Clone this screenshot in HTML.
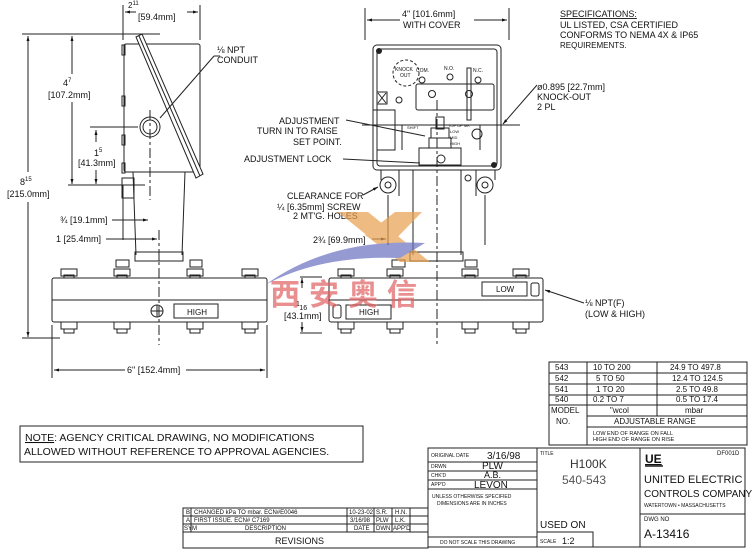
<!DOCTYPE html>
<html><head><meta charset="utf-8"><style>
html,body{margin:0;padding:0;background:#fff;}
svg{display:block;}
text{font-family:"Liberation Sans",sans-serif;}
</style></head><body>
<svg width="753" height="555" viewBox="0 0 753 555" xmlns="http://www.w3.org/2000/svg">
<defs>
<marker id="a" viewBox="0 0 10 10" refX="10" refY="5" markerWidth="7" markerHeight="5" orient="auto-start-reverse"><path d="M0,2 L10,5 L0,8 z" fill="#111"/></marker>
<g id="bt" stroke="#222" fill="none"><rect x="-8" y="-9" width="16" height="7"/><rect x="-5" y="-3" width="10" height="3"/></g>
<g id="bb" stroke="#222" fill="none"><rect x="-8" y="0" width="16" height="7"/><rect x="-5" y="7" width="10" height="4"/></g>
</defs>
<g stroke="#222" stroke-width="1" fill="none">
<!-- LEFT VIEW -->
<rect x="124" y="44" width="76" height="128" rx="2"/>
<rect x="122" y="45" width="3" height="10"/><rect x="122" y="96" width="3" height="10"/><rect x="122" y="135" width="3" height="10"/><rect x="122" y="163" width="3" height="10"/>
<path d="M136,37 L142,34 L203,174 L196,178 Z" fill="#fff"/>
<line x1="139" y1="36" x2="200" y2="176"/>
<circle cx="150" cy="127" r="10"/><circle cx="150" cy="127" r="7"/>
<rect x="122" y="178" width="12" height="20"/>
<path d="M133,172 L136,255 M185,172 L182,255"/>
<rect x="135" y="252" width="48" height="9"/><line x1="159" y1="252" x2="159" y2="261"/>
<rect x="52" y="278" width="215" height="44" rx="2"/>
<line x1="52" y1="300" x2="267" y2="300"/>
<rect x="174" y="304" width="44" height="14"/>
<circle cx="157" cy="311" r="6"/><line x1="151" y1="311" x2="163" y2="311"/><line x1="157" y1="305" x2="157" y2="317"/>
<use href="#bt" x="69" y="278"/><use href="#bt" x="122" y="278"/><use href="#bt" x="195" y="278"/><use href="#bt" x="250" y="278"/>
<rect x="116" y="260" width="13" height="7"/><rect x="190" y="260" width="12" height="7"/>
<use href="#bb" x="69" y="322"/><use href="#bb" x="122" y="322"/><use href="#bb" x="195" y="322"/><use href="#bb" x="250" y="322"/>
<g stroke-dasharray="10,3,3,3"><line x1="150" y1="110" x2="150" y2="200"/><line x1="159" y1="230" x2="159" y2="345"/></g>
<line x1="90" y1="127" x2="138" y2="127"/>
<line x1="123" y1="5" x2="123" y2="40"/><line x1="200" y1="5" x2="200" y2="40"/>
<line x1="125" y1="12" x2="136" y2="12" marker-start="url(#a)"/><line x1="187" y1="12" x2="198" y2="12" marker-end="url(#a)"/>
<line x1="22" y1="34" x2="160" y2="34"/>
<line x1="28" y1="36" x2="28" y2="172" marker-start="url(#a)"/><line x1="28" y1="202" x2="28" y2="337" marker-end="url(#a)"/>
<line x1="22" y1="338" x2="60" y2="338"/>
<line x1="72" y1="36" x2="72" y2="74" marker-start="url(#a)"/><line x1="72" y1="102" x2="72" y2="184" marker-end="url(#a)"/>
<line x1="68" y1="185" x2="145" y2="185"/>
<line x1="96" y1="130" x2="96" y2="142" marker-start="url(#a)"/><line x1="96" y1="170" x2="96" y2="184" marker-end="url(#a)"/>
<line x1="112" y1="220" x2="148" y2="220" marker-end="url(#a)"/>
<line x1="106" y1="239" x2="157" y2="239" marker-end="url(#a)"/>
<line x1="123" y1="185" x2="123" y2="240"/>
<line x1="52" y1="325" x2="52" y2="378"/><line x1="267" y1="325" x2="267" y2="378"/>
<line x1="54" y1="370" x2="125" y2="370" marker-start="url(#a)"/><line x1="186" y1="370" x2="265" y2="370" marker-end="url(#a)"/>
<line x1="160" y1="118" x2="214" y2="56"/><line x1="214" y1="56" x2="220" y2="56"/>
<!-- RIGHT VIEW -->
<rect x="373" y="45" width="128" height="125" rx="4"/>
<rect x="377" y="49" width="120" height="117" rx="3"/>
<circle cx="379" cy="51" r="2.5" fill="#222"/><circle cx="494" cy="165" r="2.5" fill="#222"/>
<circle cx="406" cy="73" r="13" stroke-dasharray="3,2"/>
<rect x="416" y="84" width="78" height="26" rx="2"/>
<rect x="467" y="68" width="4" height="52"/>
<rect x="377" y="92" width="10" height="12"/><path d="M378,93 L386,103 M386,93 L378,103"/>
<circle cx="399" cy="100" r="3"/>
<circle cx="432" cy="94" r="3.5"/><circle cx="469" cy="94" r="3.5"/>
<circle cx="422" cy="80" r="3"/><circle cx="450" cy="77" r="3"/><circle cx="478" cy="80" r="3"/>
<path d="M373,110 L395,110 L395,150 L377,150"/>
<rect x="436" y="117" width="8" height="12"/><rect x="431" y="128" width="18" height="10"/><rect x="429" y="138" width="22" height="10"/>
<rect x="419" y="148" width="42" height="17"/>
<circle cx="441" cy="159" r="4"/>
<path d="M402,125 L402,150 M480,125 L480,150"/>
<circle cx="477" cy="134" r="5"/>
<path d="M381,170 L381,180 M399,170 L399,196 M476,170 L476,196 M495,170 L495,180"/>
<circle cx="388" cy="185" r="8"/><circle cx="388" cy="185" r="3"/>
<circle cx="485" cy="185" r="8"/><circle cx="485" cy="185" r="3"/>
<circle cx="468" cy="178" r="3"/>
<path d="M413,170 L413,255 M461,170 L461,255"/>
<rect x="410" y="252" width="53" height="9"/>
<rect x="329" y="278" width="214" height="44" rx="2"/>
<line x1="329" y1="300" x2="543" y2="300"/>
<rect x="482" y="282" width="45" height="14"/>
<rect x="346" y="305" width="45" height="14"/>
<rect x="531" y="283" width="8" height="13" rx="2"/><rect x="333" y="305" width="8" height="13" rx="2"/>
<use href="#bt" x="346" y="278"/><use href="#bt" x="395" y="278"/><use href="#bt" x="470" y="278"/><use href="#bt" x="521" y="278"/>
<rect x="392" y="260" width="13" height="7"/><rect x="465" y="260" width="12" height="7"/>
<use href="#bb" x="346" y="322"/><use href="#bb" x="395" y="322"/><use href="#bb" x="470" y="322"/><use href="#bb" x="521" y="322"/>
<line x1="437" y1="100" x2="437" y2="345" stroke-dasharray="10,3,3,3"/>
<line x1="362" y1="125" x2="520" y2="125"/>
<line x1="365" y1="8" x2="365" y2="40"/><line x1="509" y1="8" x2="509" y2="40"/>
<line x1="367" y1="20" x2="400" y2="20" marker-start="url(#a)"/><line x1="474" y1="20" x2="507" y2="20" marker-end="url(#a)"/>
<line x1="388" y1="195" x2="388" y2="245"/><line x1="485" y1="195" x2="485" y2="245"/>
<line x1="372" y1="239" x2="386" y2="239" marker-end="url(#a)"/>
<line x1="300" y1="277" x2="322" y2="277"/><line x1="300" y1="333" x2="322" y2="333"/>
<line x1="302" y1="288" x2="302" y2="278" marker-end="url(#a)"/><line x1="302" y1="322" x2="302" y2="332" marker-end="url(#a)"/>
<line x1="346" y1="120" x2="425" y2="136"/>
<line x1="343" y1="159" x2="420" y2="163"/>
<line x1="363" y1="195" x2="378" y2="187" marker-end="url(#a)"/>
<line x1="537" y1="85" x2="503" y2="124" marker-end="url(#a)"/>
<line x1="584" y1="303" x2="545" y2="290" marker-end="url(#a)"/>
<!-- RANGE TABLE -->
<rect x="549" y="362" width="198" height="83"/>
<path d="M549,373 H747 M549,384 H747 M549,395 H747 M549,405 H747 M587,416 H747 M587,427 H747"/>
<path d="M587,362 V445 M657,362 V416"/>
<rect x="20" y="426" width="343" height="36"/>
<!-- TITLE BLOCK -->
<rect x="428" y="448" width="317" height="99"/>
<path d="M537,448 V547 M640,448 V547 M428,462 H537 M428,471 H537 M428,480 H537 M428,489 H537 M428,537 H537 M537,532 H593 V547 M640,514 H745"/>
<rect x="183" y="508" width="245" height="40"/>
<path d="M183,516 H428 M183,524 H428 M183,532 H428 M191,508 V532 M347,508 V532 M374,508 V532 M392,508 V532 M410,508 V532"/>
<path d="M645,466 H663" stroke-width="1.5"/>
</g>
<!-- TEXT -->
<g font-size="9" style="fill:#111">
<text x="128" y="8" font-size="8">2<tspan font-size="6" dy="-3">11</tspan></text>
<text x="138" y="20">[59.4mm]</text>
<text x="217" y="53">⅛ NPT</text><text x="217" y="63">CONDUIT</text>
<text x="63" y="86">4<tspan font-size="6" dy="-4">7</tspan></text>
<text x="48" y="98">[107.2mm]</text>
<text x="94" y="156">1<tspan font-size="6" dy="-4">5</tspan></text>
<text x="78" y="166">[41.3mm]</text>
<text x="20" y="185">8<tspan font-size="6" dy="-4">15</tspan></text>
<text x="7" y="197">[215.0mm]</text>
<text x="60" y="223">¾ [19.1mm]</text>
<text x="56" y="242">1 [25.4mm]</text>
<text x="127" y="373">6" [152.4mm]</text>
<text x="187" y="315" font-size="8">HIGH</text>
<text x="402" y="17">4" [101.6mm]</text>
<text x="403" y="28">WITH COVER</text>
<text x="560" y="17" text-decoration="underline">SPECIFICATIONS:</text>
<text x="560" y="28">UL LISTED, CSA CERTIFIED</text>
<text x="560" y="38">CONFORMS TO NEMA 4X &amp; IP65</text>
<text x="560" y="48" font-size="8">REQUIREMENTS.</text>
<text x="537" y="90">ø0.895 [22.7mm]</text>
<text x="537" y="100">KNOCK-OUT</text>
<text x="537" y="110">2 PL</text>
<text x="279" y="124">ADJUSTMENT</text>
<text x="257" y="134">TURN IN TO RAISE</text>
<text x="293" y="145">SET POINT.</text>
<text x="244" y="162">ADJUSTMENT LOCK</text>
<text x="287" y="199">CLEARANCE FOR</text>
<text x="277" y="210">¼ [6.35mm] SCREW</text>
<text x="293" y="219">2 MT'G. HOLES</text>
<text x="313" y="243">2¾ [69.9mm]</text>
<text x="296" y="306" font-size="7">1<tspan dy="4">16</tspan></text>
<text x="284" y="319">[43.1mm]</text>
<text x="496" y="292" font-size="8">LOW</text>
<text x="359" y="315" font-size="8">HIGH</text>
<text x="585" y="306">⅛ NPT(F)</text>
<text x="585" y="317">(LOW &amp; HIGH)</text>
<text x="395" y="71" font-size="5">KNOCK</text><text x="400" y="77" font-size="5">OUT</text>
<text x="416" y="72" font-size="5">COM.</text><text x="444" y="70" font-size="5">N.O.</text><text x="473" y="72" font-size="5">N.C.</text>
<text x="407" y="129" font-size="4">SHIFT</text><text x="448" y="127" font-size="4">TOP OF MK</text><text x="450" y="133" font-size="4">LOW</text><text x="450" y="139" font-size="4">MID</text><text x="450" y="145" font-size="4">HIGH</text>
</g>
<g font-size="8" style="fill:#111">
<text x="555" y="370">543</text><text x="593" y="370">10 TO 200</text><text x="670" y="370">24.9 TO 497.8</text>
<text x="555" y="381">542</text><text x="596" y="381">5 TO 50</text><text x="672" y="381">12.4 TO 124.5</text>
<text x="555" y="392">541</text><text x="596" y="392">1 TO 20</text><text x="676" y="392">2.5 TO 49.8</text>
<text x="555" y="402">540</text><text x="593" y="402">0.2 TO 7</text><text x="676" y="402">0.5 TO 17.4</text>
<text x="551" y="413">MODEL</text><text x="610" y="413">"wcol</text><text x="685" y="413">mbar</text>
<text x="556" y="424">NO.</text><text x="614" y="424">ADJUSTABLE RANGE</text>
<text x="593" y="435" font-size="5.5">LOW END OF RANGE ON FALL</text>
<text x="593" y="441" font-size="5.5">HIGH END OF RANGE ON RISE</text>
</g>
<g font-size="10.5" style="fill:#111">
<text x="25" y="441"><tspan text-decoration="underline">NOTE</tspan>: AGENCY CRITICAL DRAWING, NO MODIFICATIONS</text>
<text x="24" y="455">ALLOWED WITHOUT REFERENCE TO APPROVAL AGENCIES.</text>
</g>
<g style="fill:#111">
<text x="431" y="457" font-size="5">ORIGINAL DATE</text><text x="487" y="459" font-size="10">3/16/98</text>
<text x="431" y="468" font-size="5">DRWN</text><text x="482" y="469" font-size="10">PLW</text>
<text x="431" y="477" font-size="5">CHK'D</text><text x="484" y="478" font-size="9">A.B.</text>
<text x="431" y="486" font-size="5">APP'D</text><text x="474" y="488" font-size="10">LEVON</text>
<text x="432" y="498" font-size="5">UNLESS OTHERWISE SPECIFIED</text>
<text x="437" y="505" font-size="5">DIMENSIONS ARE IN INCHES</text>
<text x="440" y="544" font-size="5">DO NOT SCALE THIS DRAWING</text>
<text x="540" y="455" font-size="5">TITLE</text>
<text x="570" y="468" font-size="12" style="fill:#333">H100K</text>
<text x="562" y="484" font-size="12" style="fill:#555">540-543</text>
<text x="540" y="528" font-size="10">USED ON</text>
<text x="540" y="543" font-size="5">SCALE</text><text x="562" y="544" font-size="9">1:2</text>
<text x="645" y="463" font-size="12" font-weight="bold" text-decoration="underline">UE</text>
<text x="717" y="455" font-size="6">DF001D</text>
<text x="644" y="483" font-size="11">UNITED ELECTRIC</text>
<text x="644" y="497" font-size="10">CONTROLS COMPANY</text>
<text x="644" y="507" font-size="5">WATERTOWN • MASSACHUSETTS</text>
<text x="644" y="521" font-size="6">DWG NO</text>
<text x="644" y="538" font-size="12">A-13416</text>
<g font-size="6">
<text x="186" y="514">B</text><text x="194" y="514">CHANGED kPa TO mbar. ECN#E0046</text><text x="349" y="514">10-23-02</text><text x="376" y="514">S.R.</text><text x="395" y="514">H.N.</text>
<text x="186" y="522">A</text><text x="194" y="522">FIRST ISSUE. ECN# C7169</text><text x="350" y="522">3/16/98</text><text x="376" y="522">PLW</text><text x="395" y="522">L.K.</text>
<text x="184" y="530">SYM</text><text x="245" y="530">DESCRIPTION</text><text x="354" y="530">DATE</text><text x="376" y="530">DWN</text><text x="393" y="530">APP'D</text>
</g>
<text x="275" y="544" font-size="9">REVISIONS</text>
</g>
<!-- watermark -->
<g opacity="0.7">
<path d="M338,212 L368,212 L430,262 L400,262 Z" fill="#e8a050"/>
<path d="M395,212 L422,212 L385,250 L365,235 Z" fill="#e8a050"/>
<path d="M265,285 Q330,238 425,243 L400,258 Q320,255 265,285 Z" fill="#6a70c0"/>
<text x="270" y="305" font-size="30" font-weight="bold" letter-spacing="9" style="fill:#e06060;font-family:'Noto Sans CJK SC',sans-serif">西安奥信</text>
</g>
</svg>
</body></html>
